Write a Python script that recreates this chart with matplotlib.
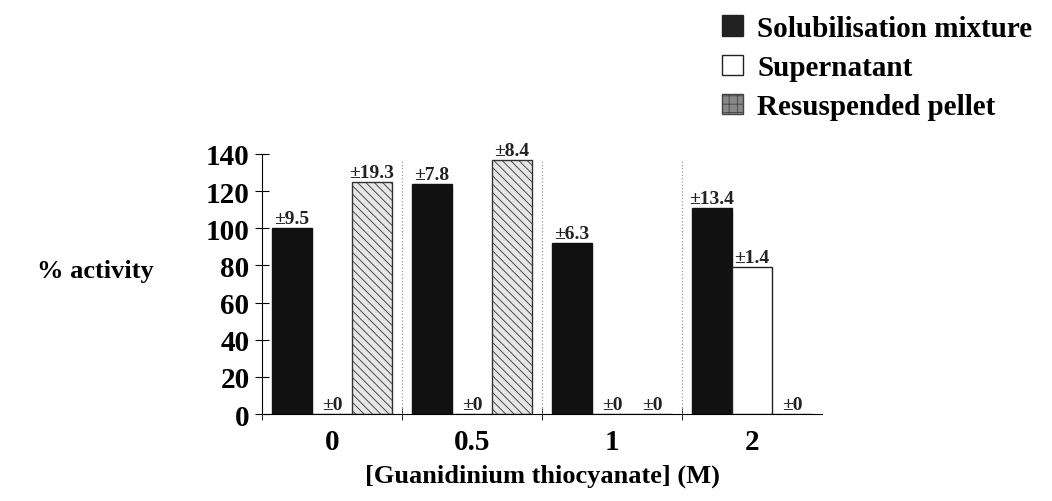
import numpy as np
import matplotlib
matplotlib.use("Agg")
from matplotlib import pyplot as plt
from matplotlib.patches import Patch

plt.rcParams['font.family'] = 'Liberation Serif'
plt.rcParams['font.weight'] = 'bold'
plt.rcParams['axes.labelweight'] = 'bold'
plt.rcParams['hatch.linewidth'] = 0.6

# data
groups = ['0', '0.5', '1', '2']
solub = [100, 124, 92, 111]
solub_err = [9.5, 7.8, 6.3, 13.4]
super_ = [0, 0, 0, 79]
super_err = [0, 0, 0, 1.4]
pellet = [125, 137, 0, 0]
pellet_err = [19.3, 8.4, 0, 0]

fig = plt.figure(figsize=(10.52, 5.02), dpi=100)
ax = fig.add_axes([262 / 1052, 1 - 415 / 502, 560 / 1052, 260 / 502])

x = np.arange(len(groups)) + 0.5
w = 0.286

b1 = ax.bar(x - w, solub, w, color='#111111', edgecolor='#111111', lw=1)
b2 = ax.bar(x, super_, w, color='white', edgecolor='#222222', lw=1)
b3 = ax.bar(x + w, pellet, w, color='#e6e6e6', edgecolor='#333333',
            hatch='\\\\\\\\', lw=1)

for off, vals, errs in [(-w, solub, solub_err), (0, super_, super_err),
                        (w, pellet, pellet_err)]:
    for xi, v, e in zip(x, vals, errs):
        ax.text(xi + off, v + 0.5, "\u00b1%g" % e, ha='center', va='bottom',
                fontsize=14, color='#222222')

# dotted separators between the groups
for sep in [1, 2, 3]:
    ax.axvline(sep, ymin=0, ymax=0.98, color='#999999', ls=':', lw=0.9)

ax.set_xlim(0, 4)
ax.set_ylim(0, 140)
ax.set_yticks(np.arange(0, 141, 20))
ax.set_xticks(x)
ax.set_xticklabels(groups)
ax.set_xticks([0, 1, 2, 3], minor=True)
ax.tick_params(axis='x', which='major', length=0, pad=10, labelsize=21)
ax.tick_params(axis='x', which='minor', direction='inout', length=8)
ax.tick_params(axis='y', direction='inout', length=10, labelsize=21, pad=4)
ax.spines['top'].set_visible(False)
ax.spines['right'].set_visible(False)
ax.set_xlabel('[Guanidinium thiocyanate] (M)', fontsize=19, labelpad=6)
fig.text(95 / 1052, 1 - 272 / 502, '% activity', ha='center', va='center',
         fontsize=19)

handles = [Patch(facecolor='#222222', edgecolor='#222222'),
           Patch(facecolor='white', edgecolor='#222222'),
           Patch(facecolor='#888888', edgecolor='#444444', hatch='++')]
labels = ['Solubilisation mixture', 'Supernatant', 'Resuspended pellet']
fig.legend(handles, labels, loc='upper left', bbox_to_anchor=(702 / 1052, 1.009),
           frameon=False, fontsize=21, handlelength=0.7, handleheight=0.7,
           handletextpad=0.5, labelspacing=0.42, borderaxespad=0.3)

plt.savefig('out.png', dpi=100)
